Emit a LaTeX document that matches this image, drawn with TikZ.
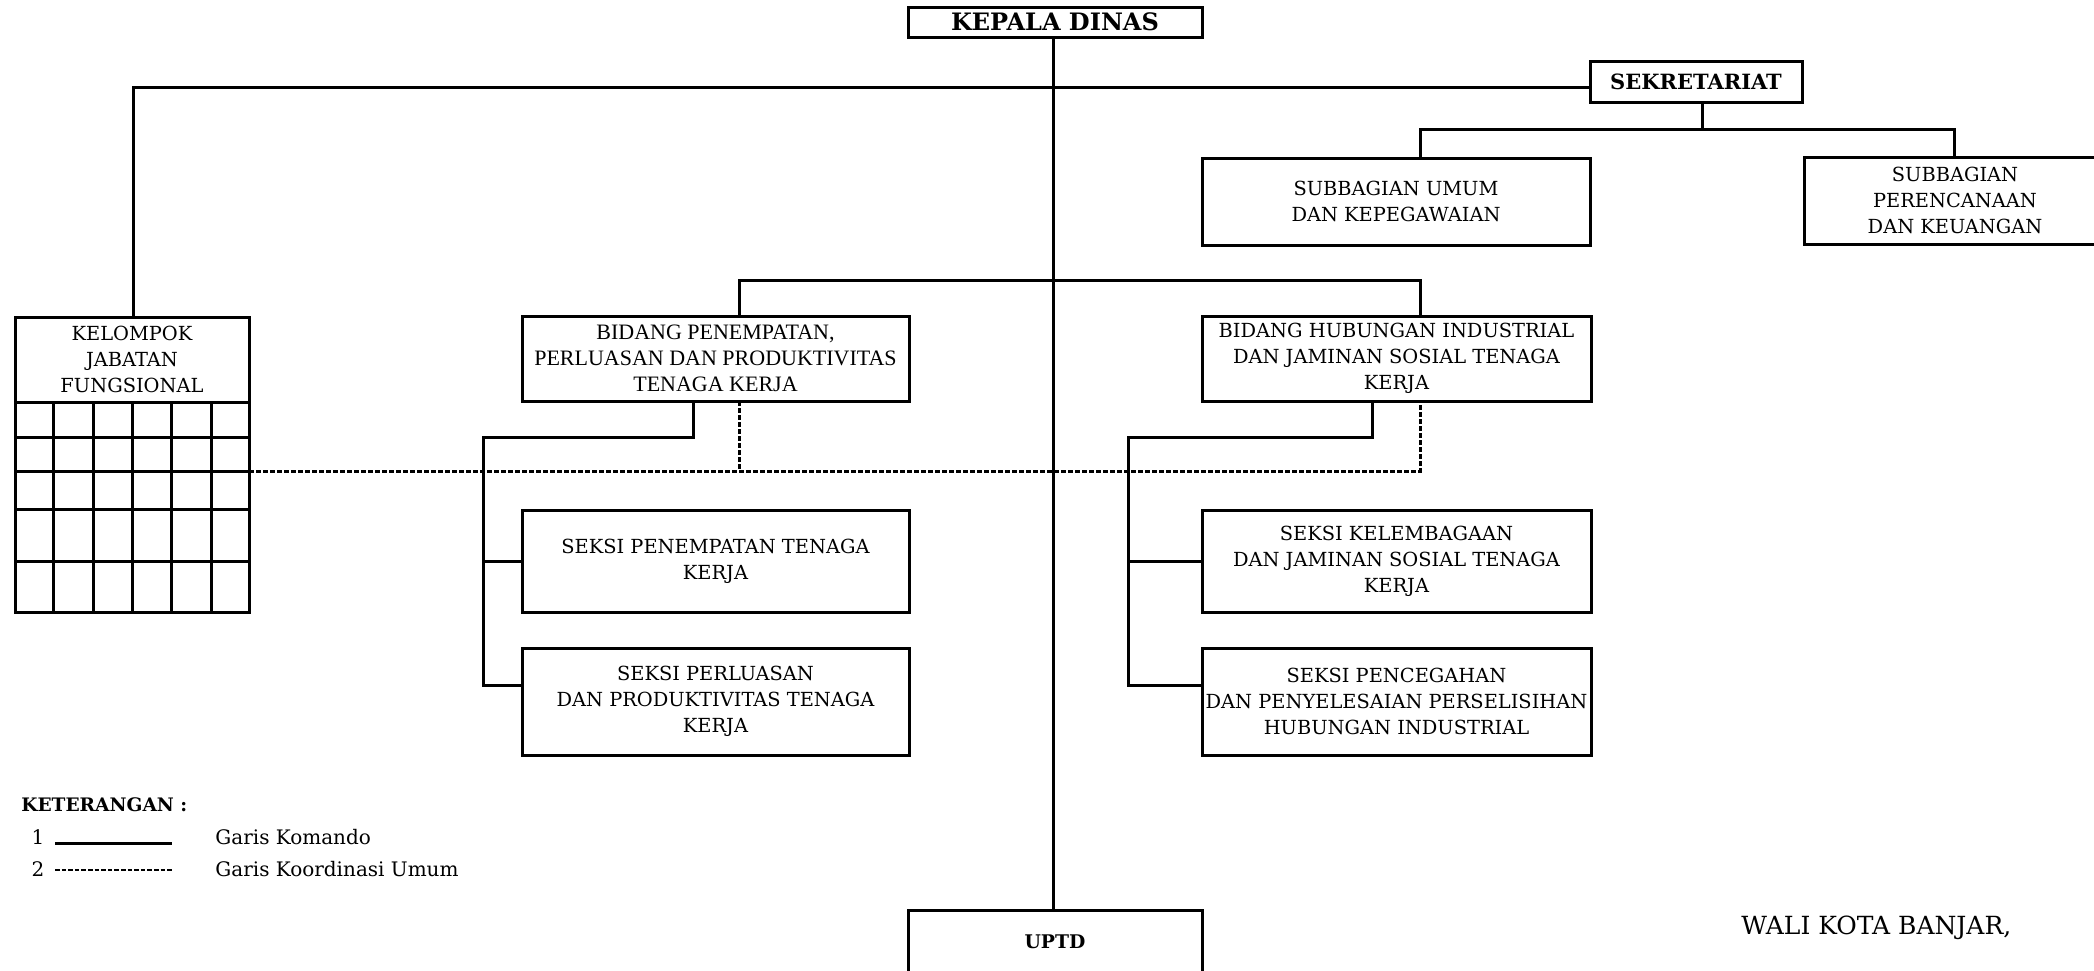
\documentclass[tikz,border=0pt]{standalone}
\usepackage{fontspec}
\setmainfont{DejaVu Serif}
\newfontfamily\condfont{Liberation Serif}
\usetikzlibrary{calc}
\begin{document}
\begin{tikzpicture}[x=0.5pt,y=-0.5pt,
  box/.style={draw,line width=1.5pt,align=center,inner sep=0pt,outer sep=0pt,font=\fontsize{9.7}{13}\selectfont},
  boldbox/.style={box,font=\bfseries\fontsize{10}{12}\selectfont},
  cmd/.style={line width=1.5pt},
  koord/.style={line width=1.5pt,dash pattern=on 2.5pt off 1pt},
  legdash/.style={line width=1.1pt,dash pattern=on 2.3pt off 1pt},
  plain/.style={inner sep=0pt,font=\fontsize{10}{12}\selectfont}]
\useasboundingbox (0,0) rectangle (2094,970);
\clip (0,0) rectangle (2094,970);

% boxes
\node[boldbox,font=\bfseries\fontsize{12}{14}\selectfont,minimum width=147pt,minimum height=15pt] (kd) at (1055,22) {KEPALA DINAS};
\node[boldbox,font=\bfseries\fontsize{10.5}{12}\selectfont,minimum width=106pt,minimum height=20.5pt] (sek) at (1696,81.5) {SEKRETARIAT};
\node[box,minimum width=194pt,minimum height=43.5pt] (su) at (1396,201.5) {SUBBAGIAN UMUM\\DAN KEPEGAWAIAN};
\node[box,minimum width=151pt,minimum height=43.5pt] (sp) at (1955,200.5) {SUBBAGIAN\\PERENCANAAN\\DAN KEUANGAN};
\node[box,minimum width=117pt,minimum height=42.5pt] (kjf) at (132,359.5) {KELOMPOK\\JABATAN\\FUNGSIONAL};
\node[draw,line width=1.5pt,minimum width=117pt,minimum height=105pt,inner sep=0pt,outer sep=0pt,anchor=north] (grid) at (kjf.south) {};
\node[box,font=\condfont\fontsize{11}{13}\selectfont,minimum width=193.5pt,minimum height=42.5pt] (bp) at (715.5,358.5) {BIDANG PENEMPATAN,\\PERLUASAN DAN PRODUKTIVITAS\\TENAGA KERJA};
\node[box,minimum width=194.5pt,minimum height=42.5pt] (bh) at (1396.5,358.5) {BIDANG HUBUNGAN INDUSTRIAL\\DAN JAMINAN SOSIAL TENAGA\\KERJA};
\node[box,minimum width=193.5pt,minimum height=51pt] (s1) at (715.5,561) {SEKSI PENEMPATAN TENAGA\\KERJA};
\node[box,minimum width=193.5pt,minimum height=53.5pt] (s2) at (715.5,701.5) {SEKSI PERLUASAN\\DAN PRODUKTIVITAS TENAGA\\KERJA};
\node[box,minimum width=194.5pt,minimum height=51pt] (s3) at (1396.5,561) {SEKSI KELEMBAGAAN\\DAN JAMINAN SOSIAL TENAGA\\KERJA};
\node[box,minimum width=194.5pt,minimum height=53.5pt] (s4) at (1396.5,701.5) {SEKSI PENCEGAHAN\\DAN PENYELESAIAN PERSELISIHAN\\HUBUNGAN INDUSTRIAL};
\node[boldbox,font=\bfseries\fontsize{9.4}{12}\selectfont,minimum width=147pt,minimum height=32pt] (uptd) at (1055,942) {UPTD};

% grid of KJF
\foreach \yy in {437,471,509,561} \draw[cmd] (grid.west |- 0,\yy) -- (grid.east |- 0,\yy);
\foreach \xx in {53,93,132,171,211} \draw[cmd] (grid.north -| \xx,0) -- (grid.south -| \xx,0);

% command lines
\draw[cmd] (kd.south -| 1053,0) -- (uptd.north -| 1053,0);
\draw[cmd] (sek.west |- 0,87) -- (133,87) -- (kjf.north -| 133,0);
\draw[cmd] (sek.south -| 1702,0) -- (1702,129);
\draw[cmd] (su.north -| 1420,0) -- (1420,129) -| (sp.north -| 1954,0);
\draw[cmd] (bp.north -| 739,0) |- (1420,280) -- (bh.north -| 1420,0);
\draw[cmd] (bp.south -| 693,0) -- (693,437) -- (483,437) -- (483,685) -- (s2.west |- 0,685);
\draw[cmd] (483,561) -- (s1.west);
\draw[cmd] (bh.south -| 1372,0) -- (1372,437) -- (1128,437) -- (1128,685) -- (s4.west |- 0,685);
\draw[cmd] (1128,561) -- (s3.west);

% coordination lines
\draw[koord] (grid.east |- 0,471) -- (1420,471) -- (bh.south -| 1420,0);
\draw[koord] (bp.south -| 739,0) -- (739,471);

% legend
\node[anchor=west,inner sep=0pt,font=\bfseries\fontsize{9.3}{11}\selectfont] (ket) at (21,805) {KETERANGAN :};
\node[plain] (n1) at (38,837) {1};
\node[plain] (n2) at (38,869) {2};
\coordinate (la) at (55,843);
\coordinate (lb) at (172,843);
\draw[cmd] (la) -- (lb);
\coordinate (da) at (55,870);
\coordinate (db) at (172,870);
\draw[legdash] (da) -- (db);
\node[plain,anchor=west] (g1) at (215,837) {Garis Komando};
\node[plain,anchor=west] (g2) at (215,869) {Garis Koordinasi Umum};

\node[anchor=west,inner sep=0pt,font=\fontsize{12.5}{14}\selectfont] (wali) at (1741,928) {WALI KOTA BANJAR,};
\end{tikzpicture}
\end{document}
